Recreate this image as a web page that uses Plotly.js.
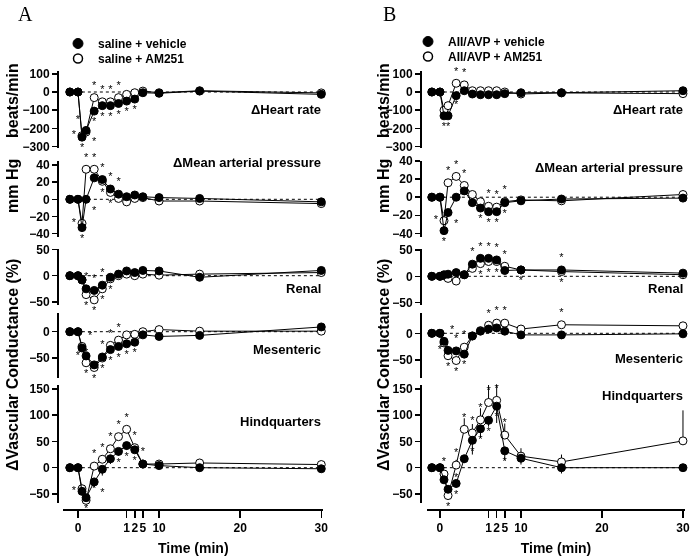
<!DOCTYPE html>
<html><head><meta charset="utf-8">
<script src="https://cdn.plot.ly/plotly-3.0.1.min.js"></script>
<style>html,body{margin:0;padding:0;background:#fff}#chart{width:691px;height:559px}
.main-svg{will-change:transform}</style>
</head><body><div id="chart"></div>
<script>
// ---------- data ----------
const xpos = [-1, 0, 0.5, 1, 2, 3, 4, 5, 6, 7, 8, 10, 15, 30];
const tickVals = [0, 6, 7, 8, 10, 20, 30];
const tickText = ['0', '1', '2', '5', '10', '20', '30'];
const rowNames = ['\u0394Heart rate', '\u0394Mean arterial pressure', 'Renal', 'Mesenteric', 'Hindquarters'];
const legendA = ['saline + vehicle', 'saline + AM251'];
const legendB = ['AII/AVP + vehicle', 'AII/AVP + AM251'];

// Panel A: filled = vehicle, open = AM251
const hrA_f  = [0, 0, -248, -211, -105, -75, -75, -63, -50, -39, -4, -7, 5, -13];
const hrA_o  = [0, 0, -240, -220, -31, -54, -54, -31, -13, -4, 5, -4, 7, -5];
const mapA_f = [0, 0, -33, 0, 25, 23, 12, 6, 3, 5, 3, 2, 1, -3];
const mapA_o = [0, 0, -28, 35, 35, 21, 8, 1, -3, 1, 2, -2, -2, -5];
const renA_f = [0, 0, -8, -25, -28, -18, -3, 3, 9, 6, 10, 9, -3, 10];
const renA_o = [0, 0, -8, -36, -46, -25, -6, 0, 3, 0, 3, 1, 3, 6];
const mesA_f = [0, 0, -31, -46, -63, -48, -34, -28, -23, -20, -6, -9, -7, 9];
const mesA_o = [0, 0, -28, -59, -68, -50, -26, -16, -6, -5, 0, 4, 1, 1];
const hqA_f  = [0, 0, -45, -57, -27, -3, 17, 31, 42, 34, 7, 4, 0, -2];
const hqA_o  = [0, 0, -40, -62, 3, 16, 36, 59, 73, 38, 7, 7, 9, 6];

// Panel B
const hrB_f  = [0, 0, -131, -131, -20, 7, -11, -15, -15, -15, -9, -4, -4, 7];
const hrB_o  = [0, 0, -100, -75, 48, 39, 7, 7, 7, 7, 0, -11, -5, -9];
const mapB_f = [0, 0, -37, -17, 0, 7, -6, -12, -16, -16, -6, -4, -2, -1];
const mapB_o = [0, 0, -26, 16, 23, 13, 3, -5, -10, -11, -5, -3, -4, 3];
const renB_f = [0, 0, 3, 4, 7, 3, 23, 34, 34, 31, 11, 12, 12, 6];
const renB_o = [0, 0, 1, -4, -9, 3, 15, 24, 28, 28, 19, 12, 9, 3];
const mesB_f = [0, 0, -15, -32, -33, -39, -5, 4, 8, 10, 4, -3, -3, -1];
const mesB_o = [0, 0, -18, -42, -51, -26, -5, 5, 15, 19, 19, 8, 16, 14];
const hqB_f  = [0, 0, -23, -41, -30, 17, 52, 74, 90, 117, 32, 18, 0, 0];
const hqB_o  = [0, 0, -12, -53, 5, 73, 66, 91, 124, 128, 62, 22, 11, 51];

// error bars (SEM): open drawn upward, filled drawn downward
const errZero = [0, 0, 0, 0, 0, 0, 0, 0, 0, 0, 0, 0, 0, 0];
const hqA_fe = [0, 0, 5, 6, 10, 12, 10, 8, 8, 5, 3, 2, 2, 2];
const hqA_oe = [0, 0, 0, 5, 8, 8, 6, 6, 6, 5, 3, 2, 2, 2];
const hqB_fe = [0, 0, 5, 5, 8, 8, 27, 17, 12, 32, 18, 12, 11, 0];
const hqB_oe = [0, 0, 5, 8, 10, 21, 17, 22, 48, 45, 22, 15, 14, 58];
const mapB_oe = [0, 0, 0, 4, 4, 4, 3, 3, 3, 3, 3, 3, 3, 3];
const mesB_oe = [0, 0, 0, 4, 4, 6, 4, 4, 6, 6, 6, 6, 6, 6];

// significance stars: t=above, b=below, l=left, r=right, tl/tr/bl/br
const hrA_fs  = ['', '', 'b', 'br', 'b', 'b', 'b', 'b', 'b', 'b', '', '', '', ''];
const hrA_os  = ['', '', 'l', 'tl', 't', 't', 't', 't', '', '', '', '', '', ''];
const mapA_fs = ['', '', 'b', 'br', '', 't', 't', 't', '', '', '', '', '', ''];
const mapA_os = ['', '', 'l', 't', 't', 'b', 'b', '', '', '', '', '', '', ''];
const renA_fs = ['', '', '', 't', 't', 't', '', '', '', '', '', '', '', ''];
const renA_os = ['', '', '', 'b', 'b', 'b', 'b', '', '', '', '', '', '', ''];
const mesA_fs = ['', '', 'tr', 'l', 'tl', 't', 'b', 'b', 'b', 'b', '', '', '', ''];
const mesA_os = ['', '', '', 'b', 'b', 'b', 't', 't', '', '', '', '', '', ''];
const hqA_fs  = ['', '', 'l', 'b', 'br', '', '', 'b', 'b', 'b', 't', '', '', ''];
const hqA_os  = ['', '', '', 'tr', 't', 't', 't', 't', 't', 't', '', '', '', ''];

const hrB_fs  = ['', '', 'b', 'b', '', '', '', '', '', '', '', '', '', ''];
const hrB_os  = ['', '', '', 'r', 't', 't', '', '', '', '', '', '', '', ''];
const mapB_fs = ['', '', 'b', 'br', '', '', '', 'b', 'b', 'b', 'b', '', '', ''];
const mapB_os = ['', '', 'l', 't', 't', 't', '', '', 't', 't', 't', '', '', ''];
const renB_fs = ['', '', '', '', '', '', 't', 't', 't', 't', '', 'b', 't', ''];
const renB_os = ['', '', '', '', '', '', '', 'b', 'b', 'b', 't', '', 'b', ''];
const mesB_fs = ['', '', 'tr', 'l', 't', 'b', '', '', '', '', '', '', '', ''];
const mesB_os = ['', '', '', 'b', 'b', 't', '', '', 't', 't', 't', '', 't', ''];
const hqB_fs  = ['', '', '', 'tr', 'b', '', 'b', 'b', 'b', 'b', 'b', '', '', ''];
const hqB_os  = ['', '', 't', 'b', 't', 't', 't', 't', 't', 't', 't', '', '', ''];

// ---------- layout helpers ----------
const W = 691, H = 559;
const fx = p => p / W;
const fy = p => 1 - p / H;
const FONT = 'Liberation Sans, Arial, sans-serif';
const posMap = {t: 'top center', b: 'bottom center', l: 'middle left', r: 'middle right',
  tl: 'top left', tr: 'top right', bl: 'bottom left', br: 'bottom right', '': 'top center'};

const rowPx = [[71, 148], [160.7, 236.7], [249, 304.5], [313, 378], [385, 503]];
const tickSets = [[100, 0, -100, -200, -300], [40, 20, 0, -20, -40], [50, 0, -50], [0, -50], [150, 100, 50, 0, -50]];

const panels = [
  {xa: 'x', yoff: 0, xdom: [63.3, 323.3], xr: [-1.81, 30.25], yaxisX: 58, labelRight: 323,
   labelY: [110, 162, 288, 349, 421],
   ranges: [[-307.7, 115.4], [-43.6, 45], [-54.8, 50.8], [-87.9, 35.5], [-67.1, 157.2]],
   rows: [
     [hrA_o, hrA_f, errZero, errZero, hrA_os, hrA_fs],
     [mapA_o, mapA_f, errZero, errZero, mapA_os, mapA_fs],
     [renA_o, renA_f, errZero, errZero, renA_os, renA_fs],
     [mesA_o, mesA_f, errZero, errZero, mesA_os, mesA_fs],
     [hqA_o, hqA_f, hqA_oe, hqA_fe, hqA_os, hqA_fs]],
   legends: ['legend', 'legend3'], legX: 58, legY: [43, 58], names: legendA},
  {xa: 'x2', yoff: 5, xdom: [427, 685], xr: [-1.6, 30.25], yaxisX: 421, labelRight: 685,
   labelY: [110, 168, 288, 358, 395],
   ranges: [[-307.7, 115.4], [-43.7, 40.4], [-53.4, 51.7], [-83.7, 38], [-67.1, 157.2]],
   rows: [
     [hrB_o, hrB_f, errZero, errZero, hrB_os, hrB_fs],
     [mapB_o, mapB_f, mapB_oe, errZero, mapB_os, mapB_fs],
     [renB_o, renB_f, errZero, errZero, renB_os, renB_fs],
     [mesB_o, mesB_f, mesB_oe, errZero, mesB_os, mesB_fs],
     [hqB_o, hqB_f, hqB_oe, hqB_fe, hqB_os, hqB_fs]],
   legends: ['legend2', 'legend4'], legX: 408, legY: [41, 56], names: legendB}
];

const traces = [];
const layout = {
  width: W, height: H, margin: {l: 0, r: 0, t: 0, b: 0},
  paper_bgcolor: '#fff', plot_bgcolor: 'rgba(0,0,0,0)',
  font: {family: FONT, color: '#000'},
  showlegend: true, shapes: [], annotations: []
};
const legStyle = {font: {family: FONT, size: 12, weight: 'bold', color: '#000'}, bgcolor: 'rgba(0,0,0,0)',
  borderwidth: 0, xanchor: 'left', yanchor: 'top', tracegroupgap: 0, itemclick: false};

panels.forEach((P, pi) => {
  const xName = P.xa === 'x' ? 'xaxis' : 'xaxis2';
  layout[xName] = {
    domain: [fx(P.xdom[0]), fx(P.xdom[1])], range: P.xr, anchor: 'free', position: 49 / H,
    showline: true, linewidth: 2, linecolor: '#000', showgrid: false, zeroline: false,
    ticks: 'outside', ticklen: 7, tickwidth: 1.5, tickcolor: '#000',
    tickmode: 'array', tickvals: tickVals, ticktext: tickText, tickangle: 0,
    tickfont: {family: FONT, size: 12, weight: 'bold'},
    title: {text: 'Time (min)', font: {family: FONT, size: 14, weight: 'bold'}, standoff: 8}
  };
  P.rows.forEach((R, ri) => {
    const idx = P.yoff + ri + 1;
    const yName = idx === 1 ? 'yaxis' : 'yaxis' + idx;
    const yRef = idx === 1 ? 'y' : 'y' + idx;
    layout[yName] = {
      domain: [fy(rowPx[ri][1]), fy(rowPx[ri][0])], range: P.ranges[ri],
      anchor: 'free', position: fx(P.yaxisX),
      showline: true, linewidth: 2, linecolor: '#000', showgrid: false, zeroline: false,
      ticks: 'outside', ticklen: 5, tickwidth: 1.5, tickcolor: '#000',
      tickmode: 'array', tickvals: tickSets[ri],
      tickfont: {family: FONT, size: 12, weight: 'bold'}
    };
    layout.shapes.push({type: 'line', xref: P.xa, yref: yRef, x0: xpos[0], x1: xpos[xpos.length - 1],
      y0: 0, y1: 0, layer: 'below', line: {color: '#000', width: 1, dash: 'dot'}});
    const [yo, yf, eo, ef, so, sf] = R;
    const mk = (y, open, err, stars) => ({
      type: 'scatter', x: xpos, y: y, xaxis: P.xa, yaxis: yRef, showlegend: false,
      mode: 'lines+markers+text', cliponaxis: false,
      line: {color: '#000', width: 1},
      marker: {size: 8, color: open ? '#fff' : '#000', line: {color: '#000', width: 1}},
      error_y: open ? {type: 'data', symmetric: false, array: err, arrayminus: errZero, width: 0, thickness: 1, color: '#000'}
                    : {type: 'data', symmetric: false, array: errZero, arrayminus: err, width: 0, thickness: 1, color: '#000'},
      text: stars.map(s => s ? '*' : ''), textposition: stars.map(s => posMap[s]),
      textfont: {family: FONT, size: 11, color: '#000'}, hoverinfo: 'skip'
    });
    traces.push(mk(yo, true, eo, so));
    traces.push(mk(yf, false, ef, sf));
    layout.annotations.push({xref: 'paper', yref: 'paper', x: fx(P.labelRight), y: fy(P.labelY[ri]),
      xanchor: 'right', yanchor: 'middle', text: rowNames[ri], showarrow: false,
      font: {family: FONT, size: 13, weight: 'bold'}});
  });
  // legend-only entries, one legend box per row so row spacing matches
  const ya = P.yoff === 0 ? 'y' : 'y6';
  traces.push({type: 'scatter', x: [null], y: [null], xaxis: P.xa, yaxis: ya,
    mode: 'markers', name: P.names[0], legend: P.legends[0],
    marker: {size: 10, color: '#000', line: {color: '#000', width: 1}}});
  traces.push({type: 'scatter', x: [null], y: [null], xaxis: P.xa, yaxis: ya,
    mode: 'markers', name: P.names[1], legend: P.legends[1],
    marker: {size: 9, color: '#fff', line: {color: '#000', width: 1.5}}});
  P.legends.forEach((ln, k) => {
    layout[ln] = Object.assign({x: fx(P.legX), y: fy(P.legY[k] - 14)}, legStyle);
  });
});

// y-axis titles
const ytitles = [
  {t: 'beats/min', y: 101}, {t: 'mm Hg', y: 186}, {t: '\u0394Vascular Conductance (%)', y: 365}
];
[13, 384].forEach(xp => ytitles.forEach(o => layout.annotations.push({
  xref: 'paper', yref: 'paper', x: fx(xp), y: fy(o.y), xanchor: 'center', yanchor: 'middle',
  text: o.t, textangle: -90, showarrow: false, font: {family: FONT, size: 16, weight: 'bold'}})));

// panel letters
[['A', 25], ['B', 389]].forEach(([t, xp]) => layout.annotations.push({
  xref: 'paper', yref: 'paper', x: fx(xp), y: fy(14), xanchor: 'center', yanchor: 'middle',
  text: t, showarrow: false, font: {family: 'Liberation Serif, Times New Roman, serif', size: 20}}));

Plotly.newPlot('chart', traces, layout, {staticPlot: true, displayModeBar: false});
</script></body></html>
